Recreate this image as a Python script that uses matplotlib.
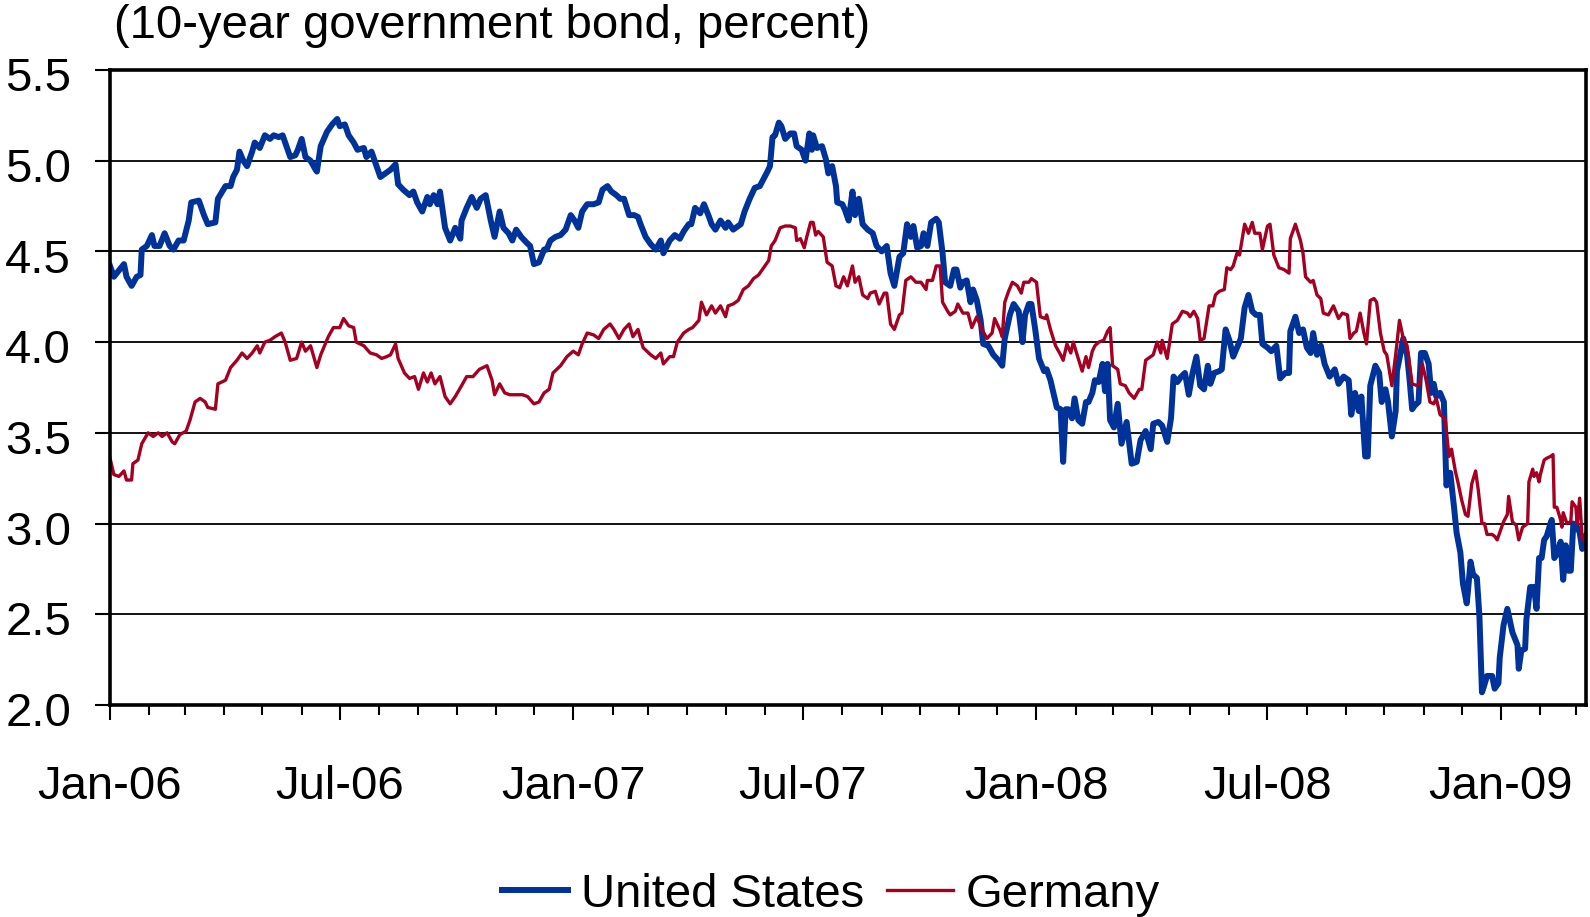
import matplotlib
matplotlib.use("Agg")
import matplotlib.pyplot as plt
import matplotlib.dates as mdates
import matplotlib.transforms as mtransforms
import numpy as np
import pandas as pd

plt.rcParams['font.family'] = ['Liberation Sans', 'DejaVu Sans']

# Days counted from 1 Jan 2006
start_date = pd.Timestamp("2006-01-01")
end_day = 1163

us_days = [0, 3, 11, 13, 17, 21, 24, 25, 29, 33, 35, 39, 43, 47, 50, 54, 58, 62, 64, 70, 74, 77, 83, 85, 91, 95, 97,
           100, 102, 105, 108, 112, 114, 118, 122, 126, 129, 133, 136, 139, 142, 146, 148, 151, 154, 158, 162, 163,
           166, 171, 175, 179, 181, 185, 188, 192, 195, 200, 202, 206, 209, 213, 217, 221,
           225, 227, 231, 236, 239, 242, 246, 250, 252, 255, 258, 260, 264, 268, 272, 276, 277, 281, 285, 289, 292,
           296, 300, 303, 307, 310, 314, 317, 320, 324, 328, 331, 334, 338, 342, 344, 347, 351, 355, 359, 363, 366,
           369, 372, 376, 381, 385, 388, 392, 395, 399, 402, 405, 409, 413, 416, 418, 422, 426, 430, 434, 436, 441,
           445, 449, 452, 456, 458, 461, 465, 468, 472, 474, 477, 481, 485, 487, 491, 497, 500, 504, 508, 512, 515,
           518, 520, 522, 524, 527, 529, 532, 536, 539, 541, 545, 548, 551, 553, 554, 557, 561, 564, 566, 569, 572,
           573, 577, 579, 582, 585, 587, 590, 593, 597, 601, 604, 608, 612, 615, 618, 622, 625, 628, 631, 633, 636,
           639, 641, 644, 647, 651, 653, 656, 658, 662,
           665, 667, 670, 672, 675, 678, 680, 683, 686, 688, 692, 696, 700, 703, 705, 709, 712, 716, 719, 721, 724,
           726, 729, 732, 736, 738, 741, 744, 746, 749, 751, 753, 755, 758, 760, 763, 766, 769, 771, 774, 776, 779,
           782, 784, 786, 788, 791, 794, 797, 801, 805, 809, 812, 816, 820, 822, 826, 829, 833, 836, 838, 841, 844,
           847, 850, 853, 856, 859, 862, 865, 867, 870, 874, 876, 879, 882,
           885, 888, 891, 894, 897, 900, 903, 906, 908, 912, 915, 919, 922, 926, 929, 930, 934, 937, 940, 943, 946,
           948, 951, 954, 957, 961, 965, 968, 972, 976, 978, 981, 984, 986, 989, 991, 993, 997, 1000, 1002, 1005,
           1007, 1010, 1013, 1014,
           1016, 1019, 1022, 1024, 1026, 1028, 1031, 1033, 1036, 1039, 1041, 1043, 1045, 1048, 1051, 1053, 1056,
           1059, 1061, 1064, 1066, 1069, 1070, 1072, 1074, 1077, 1079, 1081, 1082, 1085, 1089, 1091, 1094, 1095,
           1098, 1101, 1105, 1109, 1110, 1112, 1115, 1116, 1119, 1122, 1124, 1126, 1128, 1130, 1132, 1135, 1136,
           1138, 1140, 1143, 1145, 1147, 1149, 1151, 1153, 1156, 1158, 1160, 1163]
us_yield = [4.42, 4.36, 4.43, 4.36, 4.31, 4.36, 4.37, 4.51, 4.53, 4.59, 4.53, 4.53, 4.60, 4.53, 4.51, 4.56, 4.56,
            4.67, 4.77, 4.78, 4.70, 4.65, 4.66, 4.79, 4.86, 4.86, 4.91,
            4.95, 5.05, 5.00, 4.97, 5.05, 5.10, 5.07, 5.14, 5.12, 5.14, 5.13, 5.14, 5.08, 5.02, 5.03, 5.06, 5.12,
            5.02, 5.00, 4.95, 4.94, 5.08, 5.16, 5.20, 5.23, 5.19, 5.20, 5.14, 5.10, 5.06, 5.07, 5.02, 5.05, 4.99,
            4.91, 4.93, 4.95,
            4.98, 4.87, 4.84, 4.81, 4.83, 4.77, 4.72, 4.80, 4.76, 4.81, 4.76, 4.83, 4.63, 4.56, 4.63, 4.57, 4.67,
            4.74, 4.80, 4.74, 4.79, 4.81, 4.67, 4.58, 4.72, 4.63, 4.60, 4.56, 4.62, 4.58, 4.55, 4.53, 4.43, 4.44,
            4.51, 4.51, 4.56, 4.58, 4.59, 4.62, 4.70, 4.67, 4.63, 4.72, 4.76, 4.76, 4.77, 4.84, 4.86, 4.83, 4.81,
            4.79, 4.79, 4.70, 4.70, 4.69, 4.65, 4.58, 4.54, 4.51, 4.56, 4.49, 4.56,
            4.59, 4.57, 4.61, 4.65, 4.65, 4.74, 4.71, 4.76, 4.69, 4.65, 4.62, 4.67, 4.63, 4.66, 4.62, 4.65, 4.72,
            4.79, 4.85, 4.86, 4.90, 4.94, 4.97, 5.13, 5.14, 5.21, 5.19, 5.12, 5.15, 5.15, 5.08, 5.06, 5.00, 5.15,
            5.06, 5.14, 5.07, 5.08, 5.01, 4.93, 4.97, 4.86, 4.77, 4.76, 4.73, 4.67, 4.83, 4.70, 4.79, 4.65, 4.62,
            4.60, 4.53, 4.50, 4.53, 4.38, 4.31, 4.47, 4.49, 4.65, 4.58, 4.64, 4.52, 4.53, 4.60, 4.53, 4.66, 4.68,
            4.66, 4.49, 4.33, 4.31,
            4.40, 4.40, 4.30, 4.33, 4.34, 4.22, 4.29, 4.23, 4.12, 3.99, 3.98, 3.93, 3.90, 3.87, 4.02, 4.15, 4.21,
            4.17, 4.00, 4.15, 4.21, 4.21, 4.07, 3.91, 3.84, 3.85, 3.79, 3.70, 3.64, 3.63, 3.34, 3.63, 3.63, 3.58,
            3.69, 3.57, 3.55, 3.67, 3.67, 3.72, 3.79, 3.78, 3.88, 3.73, 3.88, 3.57, 3.53, 3.66, 3.44, 3.56, 3.33,
            3.34, 3.46, 3.51, 3.41, 3.55, 3.56, 3.54, 3.45, 3.58, 3.81, 3.78, 3.81, 3.83, 3.71, 3.83, 3.92, 3.76,
            3.74, 3.87, 3.77, 3.83, 3.84, 3.85, 4.07, 4.01,
            3.92, 3.97, 4.02, 4.19, 4.26, 4.17, 4.15, 4.15, 3.99, 3.97, 3.95, 3.98, 3.80, 3.83, 3.83, 4.06, 4.14,
            4.05, 4.07, 3.97, 3.94, 4.05, 3.93, 3.98, 3.88, 3.81, 3.85, 3.77, 3.81, 3.79, 3.60, 3.72, 3.62, 3.70,
            3.37, 3.37, 3.76, 3.87, 3.83, 3.67, 3.74, 3.67, 3.48, 3.62, 3.84,
            3.91, 4.02, 3.93, 3.79, 3.63, 3.65, 3.67, 3.94, 3.94, 3.88, 3.72, 3.77, 3.70, 3.72, 3.67, 3.21, 3.28,
            3.09, 2.95, 2.84, 2.67, 2.56, 2.63, 2.79, 2.72, 2.70, 2.49, 2.07, 2.09, 2.16, 2.16, 2.09, 2.12, 2.26,
            2.44, 2.53, 2.40, 2.33, 2.20, 2.30, 2.31, 2.47, 2.65, 2.65, 2.53, 2.81, 2.81, 2.91, 2.93, 3.00, 3.02,
            2.81, 2.83, 2.90, 2.69, 2.88, 2.74, 2.74, 3.00, 2.98, 2.95, 2.86, 2.93]

de_days = [0, 3, 7, 11, 13, 17, 18, 22, 25, 30, 34, 38, 41, 45, 49, 51, 55, 60, 63, 67, 71, 75, 77, 83, 85, 91, 95,
           100, 104, 108, 112, 116, 118, 122, 126, 130, 135, 138, 142, 147, 151, 154, 158, 163, 166, 172, 176, 181,
           184, 188, 192, 194, 200, 205, 210, 214, 218, 221,
           225, 227, 232, 236, 240, 243, 247, 250, 253, 256, 260, 264, 268, 272, 277, 281, 286, 291, 297, 301, 303,
           307, 311, 315, 320, 325, 329, 334, 338, 342, 346, 349, 355, 360, 365, 369, 372, 376, 381, 385, 389, 394,
           397, 401, 405, 409, 412, 416, 420, 426, 430, 434, 436, 441,
           444, 447, 452, 456, 459, 464, 466, 470, 474, 477, 481, 485, 487, 491, 495, 499, 503, 507, 511, 515, 519,
           521, 524, 528, 532, 536, 540, 541, 544, 547, 549, 552, 554, 556, 558, 562, 565, 569, 572, 575, 578, 581,
           585, 587, 590, 593, 597, 599, 603, 606, 610, 612, 615, 618, 622, 624, 627, 631, 635, 639, 643, 644, 648,
           651, 654, 656, 660, 662,
           666, 668, 672, 676, 679, 683, 687, 691, 695, 697, 701, 703, 705, 708, 711, 715, 718, 720, 724, 726, 730,
           733, 737, 738, 741, 745, 749, 751, 754, 757, 759, 762, 766, 769, 771, 774, 776, 779, 783, 786, 788, 790,
           794, 796, 800, 803, 807, 811, 813, 816, 820, 822, 825, 828, 829, 833, 837, 841, 845, 849, 851, 854, 857,
           859, 862, 866, 869, 871, 874, 878, 880, 883,
           885, 888, 890, 894, 897, 900, 902, 906, 908, 912, 914, 917, 921, 925, 929, 930, 934, 938, 940, 942, 946,
           948, 951, 954, 956, 960, 964, 968, 971, 975, 977, 980, 982, 985, 988, 990, 993, 996, 998, 1001, 1004,
           1006, 1010, 1013,
           1016, 1019, 1022, 1026, 1030, 1032, 1034, 1037, 1040, 1043, 1045, 1048, 1052, 1055, 1057, 1060, 1062,
           1065, 1068, 1070, 1073, 1076, 1078, 1081, 1083, 1085, 1089, 1091, 1093, 1095, 1098, 1101, 1102, 1105,
           1108, 1110, 1113, 1117, 1118, 1121, 1122, 1124, 1126, 1127, 1130, 1132, 1135, 1137, 1138, 1140, 1143,
           1144, 1145, 1148, 1151, 1152, 1155, 1156, 1158, 1160, 1163]
de_yield = [3.36, 3.27, 3.26, 3.29, 3.24, 3.24, 3.33, 3.35, 3.44, 3.50, 3.48, 3.50, 3.48, 3.50, 3.45, 3.44, 3.49,
            3.51, 3.57, 3.67, 3.69, 3.67, 3.64, 3.63, 3.77, 3.79, 3.86,
            3.90, 3.94, 3.91, 3.94, 3.98, 3.94, 4.00, 4.01, 4.03, 4.05, 4.00, 3.90, 3.91, 4.00, 3.95, 3.98, 3.86,
            3.93, 4.03, 4.08, 4.08, 4.13, 4.09, 4.08, 4.00, 3.98, 3.94, 3.93, 3.91, 3.92, 3.93,
            3.99, 3.91, 3.83, 3.80, 3.81, 3.74, 3.83, 3.78, 3.83, 3.77, 3.81, 3.70, 3.66, 3.70, 3.76, 3.81, 3.81,
            3.85, 3.87, 3.79, 3.71, 3.77, 3.72, 3.71, 3.71, 3.71, 3.70, 3.66, 3.67, 3.72, 3.74, 3.83, 3.87, 3.92,
            3.95, 3.93, 3.99, 4.05, 4.04, 4.02, 4.07, 4.10, 4.07, 4.02, 4.07, 4.10, 4.03, 4.07, 3.97, 3.93, 3.91,
            3.94, 3.88, 3.92,
            3.92, 4.00, 4.05, 4.07, 4.08, 4.12, 4.22, 4.15, 4.20, 4.16, 4.20, 4.14, 4.20, 4.21, 4.23, 4.29, 4.31,
            4.35, 4.37, 4.41, 4.45, 4.53, 4.56, 4.63, 4.64, 4.64, 4.63, 4.56, 4.57, 4.52, 4.58, 4.66, 4.66, 4.59,
            4.61, 4.58, 4.44, 4.42, 4.31, 4.30, 4.36, 4.31, 4.42, 4.33, 4.36, 4.26, 4.24, 4.27, 4.28, 4.21, 4.27,
            4.27, 4.10, 4.07, 4.15, 4.16, 4.34, 4.36, 4.33, 4.33, 4.29, 4.34, 4.34, 4.42, 4.42, 4.22, 4.17, 4.15,
            4.17, 4.21, 4.16, 4.16, 4.08, 4.14, 4.07, 4.02, 4.05, 4.13, 4.07, 4.03, 4.22, 4.28, 4.33, 4.31, 4.27,
            4.33, 4.33, 4.35, 4.33, 4.14, 4.13, 4.15, 4.07, 3.98, 3.93, 3.90, 3.99, 3.94, 4.00, 3.93, 3.84, 3.92,
            3.86, 3.95, 3.98, 4.00, 4.01, 4.06, 4.08, 3.87, 3.85, 3.77, 3.76, 3.72, 3.69, 3.74, 3.74, 3.90, 3.92,
            3.93, 4.00, 3.94, 4.01, 3.91, 4.10, 4.12, 4.17, 4.16, 4.14, 4.17, 4.13, 4.01, 4.02, 4.20, 4.20, 4.26,
            4.28, 4.29, 4.41, 4.40,
            4.42, 4.49, 4.48, 4.65, 4.60, 4.66, 4.60, 4.60, 4.51, 4.64, 4.65, 4.48, 4.41, 4.40, 4.38, 4.57, 4.65,
            4.56, 4.49, 4.36, 4.33, 4.34, 4.26, 4.24, 4.16, 4.15, 4.20, 4.13, 4.16, 4.15, 4.02, 4.05, 4.06, 4.16,
            4.05, 3.99, 4.23, 4.24, 4.22, 4.05, 3.95, 3.93, 3.76, 3.93,
            4.12, 4.02, 3.98, 3.77, 3.76, 3.77, 3.88, 3.79, 3.67, 3.66, 3.69, 3.60, 3.58, 3.37, 3.41, 3.29, 3.23,
            3.13, 3.05, 3.04, 3.22, 3.29, 3.19, 3.00, 3.00, 2.94, 2.94, 2.93, 2.91, 2.95, 3.01, 3.05, 3.15, 3.01,
            2.99, 2.91, 2.98, 3.00, 3.23, 3.30, 3.26, 3.28, 3.23, 3.27, 3.35, 3.36, 3.37, 3.38, 3.09, 3.09, 3.02,
            2.98, 3.06, 3.00, 3.01, 3.12, 3.09, 3.00, 3.14, 2.91, 2.95]

y_ticks = [2.0, 2.5, 3.0, 3.5, 4.0, 4.5, 5.0, 5.5]
title_text = "(10-year government bond, percent)"
series_names = ["United States", "Germany"]

us_dates = start_date + pd.to_timedelta(us_days, unit="D")
de_dates = start_date + pd.to_timedelta(de_days, unit="D")

fig = plt.figure(figsize=(15.9, 9.17), dpi=100)
ax = fig.add_axes([0.0692, 0.2312, 0.9283, 0.6925])

us_line, = ax.plot(us_dates, us_yield, color="#003399", lw=4.3, solid_joinstyle="round", zorder=3)
de_line, = ax.plot(de_dates, de_yield, color="#A50021", lw=2.4, solid_joinstyle="round", zorder=4)

ax.set_xlim(start_date, start_date + pd.Timedelta(days=end_day))
ax.set_ylim(2.0, 5.5)
ax.set_yticks(y_ticks)
ax.yaxis.set_major_formatter(plt.FuncFormatter(lambda v, p: f"{v:.1f}"))
ax.yaxis.grid(True, color="black", lw=1.3)
ax.set_axisbelow(True)

ax.xaxis.set_major_locator(mdates.MonthLocator(bymonth=[1, 7]))
ax.xaxis.set_major_formatter(mdates.DateFormatter("%b-%y"))
ax.xaxis.set_minor_locator(mdates.MonthLocator())

for s in ax.spines.values():
    s.set_linewidth(2.6)
    s.set_color("black")
    s.set_zorder(5)

ax.tick_params(axis="x", which="major", direction="out", length=11, width=1.5, labelsize=34, pad=32)
ax.tick_params(axis="x", which="minor", direction="out", length=7.5, width=1.5)
ax.tick_params(axis="y", which="major", direction="out", length=11, width=1.5, labelsize=34, pad=17)

# nudge the value labels slightly below their gridlines
shift = mtransforms.ScaledTranslation(0, -3 / 72, fig.dpi_scale_trans)
for lbl in ax.get_yticklabels():
    lbl.set_transform(lbl.get_transform() + shift)

fig.text(114 / 1590, 1 - 26 / 917, title_text, fontsize=34, ha="left", va="center")

fig.legend([us_line, de_line], series_names, loc="center", bbox_to_anchor=(831 / 1590, 1 - 895 / 917),
           ncol=2, frameon=False, fontsize=34, handlelength=1.4, handletextpad=0.28, columnspacing=0.47,
           borderpad=0, borderaxespad=0)

fig.savefig("out.png", dpi=100)
